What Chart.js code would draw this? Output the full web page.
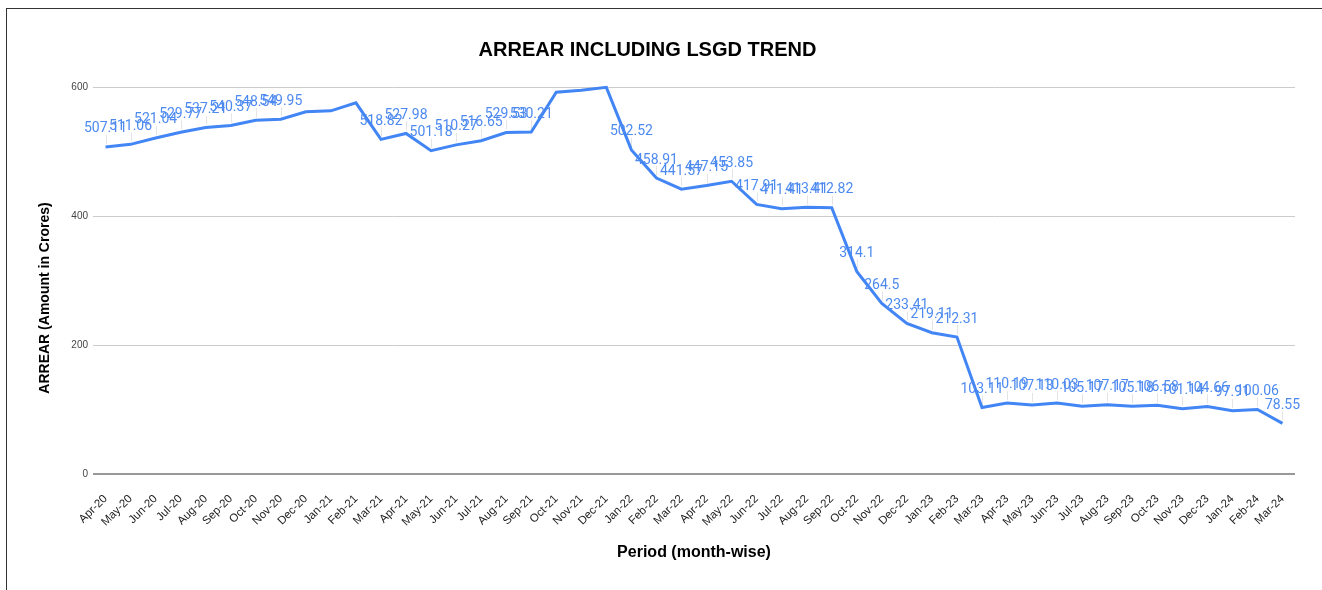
<!DOCTYPE html>
<html lang="en">
<head>
  <meta charset="UTF-8">
  <title>Arrear Including LSGD Trend</title>
  <script src="https://cdn.jsdelivr.net/npm/chart.js"></script>
  <style>
    body { margin: 0; background: #fff; }
    #wrap { position: relative; width: 1322px; height: 590px; }
    #frame { position: absolute; left: 6px; top: 8px; right: 0; bottom: 0; border-top: 1px solid #333; border-left: 1px solid #333; pointer-events: none; }
    canvas { position: absolute; left: 0; top: 0; }
  </style>
</head>
<body>
  <div id="wrap">
    <canvas id="arrearChart" width="1322" height="590"></canvas>
    <div id="frame"></div>
  </div>

  <script>
    const months = [
      'Apr-20','May-20','Jun-20','Jul-20','Aug-20','Sep-20','Oct-20','Nov-20','Dec-20','Jan-21','Feb-21','Mar-21',
      'Apr-21','May-21','Jun-21','Jul-21','Aug-21','Sep-21','Oct-21','Nov-21','Dec-21','Jan-22','Feb-22','Mar-22',
      'Apr-22','May-22','Jun-22','Jul-22','Aug-22','Sep-22','Oct-22','Nov-22','Dec-22','Jan-23','Feb-23','Mar-23',
      'Apr-23','May-23','Jun-23','Jul-23','Aug-23','Sep-23','Oct-23','Nov-23','Dec-23','Jan-24','Feb-24','Mar-24'
    ];

    const arrear = [
      507.11, 511.06, 521.04, 529.77, 537.21, 540.37, 548.54, 549.95, 561.5, 563, 575.5, 518.82,
      527.98, 501.18, 510.27, 516.65, 529.53, 530.21, 592, 595, 599.5, 502.52, 458.91, 441.57,
      447.15, 453.85, 417.91, 411.41, 413.41, 412.82, 314.1, 264.5, 233.41, 219.11, 212.31, 103.11,
      110.19, 107.13, 110.03, 105.17, 107.17, 105.18, 106.58, 101.14, 104.66, 97.91, 100.06, 78.55
    ];

    // months whose value label is not shown in the original
    const unlabeled = ['Dec-20', 'Jan-21', 'Feb-21', 'Oct-21', 'Nov-21', 'Dec-21'];

    const yTicks = [0, 200, 400, 600];

    const pointLabels = {
      id: 'pointLabels',
      beforeDatasetsDraw(chart) {
        const { ctx } = chart;
        const meta = chart.getDatasetMeta(0);
        ctx.save();
        ctx.strokeStyle = '#e4e4e4';
        ctx.lineWidth = 1;
        meta.data.forEach((pt, i) => {
          if (unlabeled.includes(months[i])) return;
          ctx.beginPath();
          ctx.moveTo(Math.round(pt.x) + 0.5, pt.y - 3);
          ctx.lineTo(Math.round(pt.x) + 0.5, pt.y - 12);
          ctx.stroke();
        });
        ctx.restore();
      },
      afterDatasetsDraw(chart) {
        const { ctx } = chart;
        const meta = chart.getDatasetMeta(0);
        ctx.save();
        ctx.font = '14px Roboto, Arial, sans-serif';
        ctx.fillStyle = '#4d8af0';
        ctx.textAlign = 'center';
        ctx.textBaseline = 'middle';
        meta.data.forEach((pt, i) => {
          if (unlabeled.includes(months[i])) return;
          ctx.fillText(String(arrear[i]), pt.x, pt.y - 18);
        });
        ctx.restore();
      }
    };

    const yTitle = {
      id: 'yTitle',
      afterDraw(chart) {
        const { ctx } = chart;
        ctx.save();
        ctx.translate(45, 298);
        ctx.rotate(-Math.PI / 2);
        ctx.font = 'bold 14px Arial, "Liberation Sans", sans-serif';
        ctx.fillStyle = '#000';
        ctx.textAlign = 'center';
        ctx.textBaseline = 'middle';
        ctx.fillText('ARREAR (Amount in Crores)', 0, 0);
        ctx.restore();
      }
    };

    new Chart(document.getElementById('arrearChart'), {
      type: 'line',
      data: {
        labels: months,
        datasets: [{
          label: 'Arrear',
          data: arrear,
          borderColor: '#4285f4',
          borderWidth: 3,
          pointRadius: 0,
          tension: 0,
          fill: false,
          clip: false
        }]
      },
      options: {
        responsive: false,
        animation: false,
        layout: { padding: { left: 0, right: 27, top: 0, bottom: 0 } },
        plugins: {
          legend: { display: false },
          tooltip: { enabled: false },
          title: {
            display: true,
            text: 'ARREAR INCLUDING LSGD TREND',
            color: '#000',
            font: { family: 'Arial, "Liberation Sans", sans-serif', size: 20, weight: 'bold', lineHeight: 1.2 },
            padding: { top: 38, bottom: 25 }
          }
        },
        scales: {
          x: {
            offset: true,
            grid: { display: false },
            border: { display: false },
            ticks: {
              color: '#222',
              font: { family: 'Arial, "Liberation Sans", sans-serif', size: 11.5 },
              minRotation: 45,
              maxRotation: 45,
              autoSkip: false,
              padding: 10
            },
            title: {
              display: true,
              text: 'Period (month-wise)',
              color: '#000',
              font: { family: 'Arial, "Liberation Sans", sans-serif', size: 16, weight: 'bold', lineHeight: 1.2 },
              padding: { top: 0, bottom: 28 }
            },
            afterFit(scale) { scale.height = 116; }
          },
          y: {
            min: 0,
            max: 600,
            afterBuildTicks(scale) { scale.ticks = yTicks.map(v => ({ value: v })); },
            grid: {
              drawTicks: false,
              color: c => c.tick && c.tick.value === 0 ? '#999' : '#ccc',
              lineWidth: c => c.tick && c.tick.value === 0 ? 2 : 1
            },
            border: { display: false },
            ticks: {
              color: '#444',
              font: { family: 'Arial, "Liberation Sans", sans-serif', size: 10 },
              padding: 5
            },
            afterFit(scale) { scale.width = 93; }
          }
        }
      },
      plugins: [pointLabels, yTitle]
    });
  </script>
</body>
</html>
